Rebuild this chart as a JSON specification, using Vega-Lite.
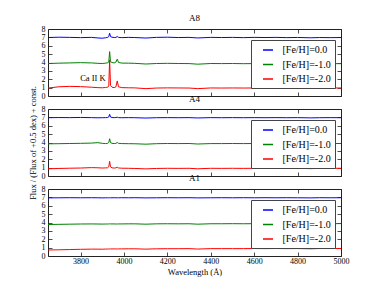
{
"$schema":"https://vega.github.io/schema/vega-lite/v6.json",
"padding":{"left":27,"top":13,"right":5,"bottom":5},
"background":"#ffffff",
"datasets":{
"A8":[
{"w":3650,"f":6.98,"s":"[Fe/H]=0.0"},{"w":3700,"f":7.02,"s":"[Fe/H]=0.0"},{"w":3750,"f":7.0,"s":"[Fe/H]=0.0"},{"w":3800,"f":6.97,"s":"[Fe/H]=0.0"},{"w":3850,"f":7.0,"s":"[Fe/H]=0.0"},{"w":3880,"f":6.93,"s":"[Fe/H]=0.0"},{"w":3900,"f":6.9,"s":"[Fe/H]=0.0"},{"w":3915,"f":6.95,"s":"[Fe/H]=0.0"},{"w":3925,"f":7.0,"s":"[Fe/H]=0.0"},{"w":3930,"f":7.1,"s":"[Fe/H]=0.0"},{"w":3934,"f":7.5,"s":"[Fe/H]=0.0"},{"w":3938,"f":7.1,"s":"[Fe/H]=0.0"},{"w":3945,"f":7.02,"s":"[Fe/H]=0.0"},{"w":3955,"f":6.98,"s":"[Fe/H]=0.0"},{"w":3963,"f":7.0,"s":"[Fe/H]=0.0"},{"w":3969,"f":7.1,"s":"[Fe/H]=0.0"},{"w":3975,"f":7.0,"s":"[Fe/H]=0.0"},{"w":3990,"f":6.97,"s":"[Fe/H]=0.0"},{"w":4020,"f":7.0,"s":"[Fe/H]=0.0"},{"w":4050,"f":6.98,"s":"[Fe/H]=0.0"},{"w":4101,"f":6.92,"s":"[Fe/H]=0.0"},{"w":4150,"f":7.0,"s":"[Fe/H]=0.0"},{"w":4200,"f":7.02,"s":"[Fe/H]=0.0"},{"w":4250,"f":6.98,"s":"[Fe/H]=0.0"},{"w":4300,"f":7.0,"s":"[Fe/H]=0.0"},{"w":4340,"f":6.93,"s":"[Fe/H]=0.0"},{"w":4400,"f":7.0,"s":"[Fe/H]=0.0"},{"w":4450,"f":6.98,"s":"[Fe/H]=0.0"},{"w":4500,"f":7.0,"s":"[Fe/H]=0.0"},{"w":4550,"f":6.97,"s":"[Fe/H]=0.0"},{"w":4600,"f":7.0,"s":"[Fe/H]=0.0"},{"w":4650,"f":6.98,"s":"[Fe/H]=0.0"},{"w":4700,"f":7.0,"s":"[Fe/H]=0.0"},{"w":4750,"f":6.97,"s":"[Fe/H]=0.0"},{"w":4800,"f":6.99,"s":"[Fe/H]=0.0"},{"w":4861,"f":6.95,"s":"[Fe/H]=0.0"},{"w":4900,"f":6.98,"s":"[Fe/H]=0.0"},{"w":4950,"f":6.97,"s":"[Fe/H]=0.0"},{"w":5000,"f":6.98,"s":"[Fe/H]=0.0"},
{"w":3650,"f":3.88,"s":"[Fe/H]=-1.0"},{"w":3700,"f":3.92,"s":"[Fe/H]=-1.0"},{"w":3750,"f":3.95,"s":"[Fe/H]=-1.0"},{"w":3800,"f":3.98,"s":"[Fe/H]=-1.0"},{"w":3850,"f":3.95,"s":"[Fe/H]=-1.0"},{"w":3880,"f":3.9,"s":"[Fe/H]=-1.0"},{"w":3900,"f":3.88,"s":"[Fe/H]=-1.0"},{"w":3915,"f":3.92,"s":"[Fe/H]=-1.0"},{"w":3925,"f":3.97,"s":"[Fe/H]=-1.0"},{"w":3930,"f":4.05,"s":"[Fe/H]=-1.0"},{"w":3934,"f":5.3,"s":"[Fe/H]=-1.0"},{"w":3938,"f":4.1,"s":"[Fe/H]=-1.0"},{"w":3945,"f":4.0,"s":"[Fe/H]=-1.0"},{"w":3955,"f":3.95,"s":"[Fe/H]=-1.0"},{"w":3963,"f":4.05,"s":"[Fe/H]=-1.0"},{"w":3969,"f":4.4,"s":"[Fe/H]=-1.0"},{"w":3975,"f":4.0,"s":"[Fe/H]=-1.0"},{"w":3990,"f":3.93,"s":"[Fe/H]=-1.0"},{"w":4020,"f":3.92,"s":"[Fe/H]=-1.0"},{"w":4050,"f":3.9,"s":"[Fe/H]=-1.0"},{"w":4101,"f":3.82,"s":"[Fe/H]=-1.0"},{"w":4150,"f":3.88,"s":"[Fe/H]=-1.0"},{"w":4200,"f":3.9,"s":"[Fe/H]=-1.0"},{"w":4250,"f":3.88,"s":"[Fe/H]=-1.0"},{"w":4300,"f":3.87,"s":"[Fe/H]=-1.0"},{"w":4340,"f":3.8,"s":"[Fe/H]=-1.0"},{"w":4400,"f":3.88,"s":"[Fe/H]=-1.0"},{"w":4450,"f":3.87,"s":"[Fe/H]=-1.0"},{"w":4500,"f":3.88,"s":"[Fe/H]=-1.0"},{"w":4550,"f":3.86,"s":"[Fe/H]=-1.0"},{"w":4600,"f":3.87,"s":"[Fe/H]=-1.0"},{"w":4650,"f":3.86,"s":"[Fe/H]=-1.0"},{"w":4700,"f":3.88,"s":"[Fe/H]=-1.0"},{"w":4750,"f":3.87,"s":"[Fe/H]=-1.0"},{"w":4800,"f":3.86,"s":"[Fe/H]=-1.0"},{"w":4861,"f":3.82,"s":"[Fe/H]=-1.0"},{"w":4900,"f":3.86,"s":"[Fe/H]=-1.0"},{"w":4950,"f":3.87,"s":"[Fe/H]=-1.0"},{"w":5000,"f":3.86,"s":"[Fe/H]=-1.0"},
{"w":3650,"f":0.95,"s":"[Fe/H]=-2.0"},{"w":3700,"f":1.1,"s":"[Fe/H]=-2.0"},{"w":3750,"f":1.15,"s":"[Fe/H]=-2.0"},{"w":3800,"f":1.12,"s":"[Fe/H]=-2.0"},{"w":3850,"f":1.05,"s":"[Fe/H]=-2.0"},{"w":3880,"f":1.0,"s":"[Fe/H]=-2.0"},{"w":3900,"f":0.98,"s":"[Fe/H]=-2.0"},{"w":3915,"f":1.02,"s":"[Fe/H]=-2.0"},{"w":3925,"f":1.05,"s":"[Fe/H]=-2.0"},{"w":3930,"f":1.2,"s":"[Fe/H]=-2.0"},{"w":3934,"f":4.3,"s":"[Fe/H]=-2.0"},{"w":3938,"f":1.25,"s":"[Fe/H]=-2.0"},{"w":3945,"f":1.05,"s":"[Fe/H]=-2.0"},{"w":3955,"f":1.0,"s":"[Fe/H]=-2.0"},{"w":3963,"f":1.1,"s":"[Fe/H]=-2.0"},{"w":3969,"f":1.8,"s":"[Fe/H]=-2.0"},{"w":3975,"f":1.1,"s":"[Fe/H]=-2.0"},{"w":3990,"f":1.0,"s":"[Fe/H]=-2.0"},{"w":4020,"f":0.98,"s":"[Fe/H]=-2.0"},{"w":4050,"f":0.97,"s":"[Fe/H]=-2.0"},{"w":4101,"f":0.88,"s":"[Fe/H]=-2.0"},{"w":4150,"f":0.95,"s":"[Fe/H]=-2.0"},{"w":4200,"f":0.97,"s":"[Fe/H]=-2.0"},{"w":4250,"f":0.96,"s":"[Fe/H]=-2.0"},{"w":4300,"f":0.95,"s":"[Fe/H]=-2.0"},{"w":4340,"f":0.88,"s":"[Fe/H]=-2.0"},{"w":4400,"f":0.96,"s":"[Fe/H]=-2.0"},{"w":4450,"f":0.95,"s":"[Fe/H]=-2.0"},{"w":4500,"f":0.96,"s":"[Fe/H]=-2.0"},{"w":4550,"f":0.95,"s":"[Fe/H]=-2.0"},{"w":4600,"f":0.96,"s":"[Fe/H]=-2.0"},{"w":4650,"f":0.95,"s":"[Fe/H]=-2.0"},{"w":4700,"f":0.96,"s":"[Fe/H]=-2.0"},{"w":4750,"f":0.95,"s":"[Fe/H]=-2.0"},{"w":4800,"f":0.96,"s":"[Fe/H]=-2.0"},{"w":4861,"f":0.9,"s":"[Fe/H]=-2.0"},{"w":4900,"f":0.95,"s":"[Fe/H]=-2.0"},{"w":4950,"f":0.96,"s":"[Fe/H]=-2.0"},{"w":5000,"f":0.96,"s":"[Fe/H]=-2.0"}
],
"A4":[
{"w":3650,"f":6.96,"s":"[Fe/H]=0.0"},{"w":3700,"f":6.98,"s":"[Fe/H]=0.0"},{"w":3750,"f":6.97,"s":"[Fe/H]=0.0"},{"w":3800,"f":6.99,"s":"[Fe/H]=0.0"},{"w":3850,"f":6.97,"s":"[Fe/H]=0.0"},{"w":3880,"f":6.95,"s":"[Fe/H]=0.0"},{"w":3900,"f":6.96,"s":"[Fe/H]=0.0"},{"w":3915,"f":6.97,"s":"[Fe/H]=0.0"},{"w":3925,"f":6.98,"s":"[Fe/H]=0.0"},{"w":3930,"f":7.05,"s":"[Fe/H]=0.0"},{"w":3934,"f":7.36,"s":"[Fe/H]=0.0"},{"w":3938,"f":7.05,"s":"[Fe/H]=0.0"},{"w":3945,"f":6.98,"s":"[Fe/H]=0.0"},{"w":3955,"f":6.97,"s":"[Fe/H]=0.0"},{"w":3963,"f":6.98,"s":"[Fe/H]=0.0"},{"w":3969,"f":7.02,"s":"[Fe/H]=0.0"},{"w":3975,"f":6.97,"s":"[Fe/H]=0.0"},{"w":3990,"f":6.96,"s":"[Fe/H]=0.0"},{"w":4020,"f":6.97,"s":"[Fe/H]=0.0"},{"w":4050,"f":6.96,"s":"[Fe/H]=0.0"},{"w":4101,"f":6.92,"s":"[Fe/H]=0.0"},{"w":4150,"f":6.96,"s":"[Fe/H]=0.0"},{"w":4200,"f":6.97,"s":"[Fe/H]=0.0"},{"w":4250,"f":6.96,"s":"[Fe/H]=0.0"},{"w":4300,"f":6.97,"s":"[Fe/H]=0.0"},{"w":4340,"f":6.93,"s":"[Fe/H]=0.0"},{"w":4400,"f":6.97,"s":"[Fe/H]=0.0"},{"w":4450,"f":6.96,"s":"[Fe/H]=0.0"},{"w":4500,"f":6.97,"s":"[Fe/H]=0.0"},{"w":4550,"f":6.96,"s":"[Fe/H]=0.0"},{"w":4600,"f":6.97,"s":"[Fe/H]=0.0"},{"w":4650,"f":6.96,"s":"[Fe/H]=0.0"},{"w":4700,"f":6.97,"s":"[Fe/H]=0.0"},{"w":4750,"f":6.96,"s":"[Fe/H]=0.0"},{"w":4800,"f":6.97,"s":"[Fe/H]=0.0"},{"w":4861,"f":6.94,"s":"[Fe/H]=0.0"},{"w":4900,"f":6.96,"s":"[Fe/H]=0.0"},{"w":4950,"f":6.97,"s":"[Fe/H]=0.0"},{"w":5000,"f":6.96,"s":"[Fe/H]=0.0"},
{"w":3650,"f":3.84,"s":"[Fe/H]=-1.0"},{"w":3700,"f":3.86,"s":"[Fe/H]=-1.0"},{"w":3750,"f":3.88,"s":"[Fe/H]=-1.0"},{"w":3800,"f":3.9,"s":"[Fe/H]=-1.0"},{"w":3850,"f":3.93,"s":"[Fe/H]=-1.0"},{"w":3880,"f":3.98,"s":"[Fe/H]=-1.0"},{"w":3900,"f":3.9,"s":"[Fe/H]=-1.0"},{"w":3915,"f":3.87,"s":"[Fe/H]=-1.0"},{"w":3925,"f":3.9,"s":"[Fe/H]=-1.0"},{"w":3930,"f":4.0,"s":"[Fe/H]=-1.0"},{"w":3934,"f":4.45,"s":"[Fe/H]=-1.0"},{"w":3938,"f":4.0,"s":"[Fe/H]=-1.0"},{"w":3945,"f":3.9,"s":"[Fe/H]=-1.0"},{"w":3955,"f":3.87,"s":"[Fe/H]=-1.0"},{"w":3963,"f":3.9,"s":"[Fe/H]=-1.0"},{"w":3969,"f":4.0,"s":"[Fe/H]=-1.0"},{"w":3975,"f":3.9,"s":"[Fe/H]=-1.0"},{"w":3990,"f":3.87,"s":"[Fe/H]=-1.0"},{"w":4020,"f":3.86,"s":"[Fe/H]=-1.0"},{"w":4050,"f":3.85,"s":"[Fe/H]=-1.0"},{"w":4101,"f":3.8,"s":"[Fe/H]=-1.0"},{"w":4150,"f":3.86,"s":"[Fe/H]=-1.0"},{"w":4200,"f":3.88,"s":"[Fe/H]=-1.0"},{"w":4250,"f":3.87,"s":"[Fe/H]=-1.0"},{"w":4300,"f":3.88,"s":"[Fe/H]=-1.0"},{"w":4340,"f":3.82,"s":"[Fe/H]=-1.0"},{"w":4400,"f":3.87,"s":"[Fe/H]=-1.0"},{"w":4450,"f":3.87,"s":"[Fe/H]=-1.0"},{"w":4500,"f":3.88,"s":"[Fe/H]=-1.0"},{"w":4550,"f":3.87,"s":"[Fe/H]=-1.0"},{"w":4600,"f":3.88,"s":"[Fe/H]=-1.0"},{"w":4650,"f":3.87,"s":"[Fe/H]=-1.0"},{"w":4700,"f":3.88,"s":"[Fe/H]=-1.0"},{"w":4750,"f":3.87,"s":"[Fe/H]=-1.0"},{"w":4800,"f":3.88,"s":"[Fe/H]=-1.0"},{"w":4861,"f":3.84,"s":"[Fe/H]=-1.0"},{"w":4900,"f":3.87,"s":"[Fe/H]=-1.0"},{"w":4950,"f":3.88,"s":"[Fe/H]=-1.0"},{"w":5000,"f":3.88,"s":"[Fe/H]=-1.0"},
{"w":3650,"f":0.86,"s":"[Fe/H]=-2.0"},{"w":3700,"f":0.9,"s":"[Fe/H]=-2.0"},{"w":3750,"f":0.93,"s":"[Fe/H]=-2.0"},{"w":3800,"f":0.95,"s":"[Fe/H]=-2.0"},{"w":3850,"f":1.0,"s":"[Fe/H]=-2.0"},{"w":3880,"f":0.98,"s":"[Fe/H]=-2.0"},{"w":3900,"f":0.95,"s":"[Fe/H]=-2.0"},{"w":3915,"f":0.97,"s":"[Fe/H]=-2.0"},{"w":3925,"f":0.98,"s":"[Fe/H]=-2.0"},{"w":3930,"f":1.1,"s":"[Fe/H]=-2.0"},{"w":3934,"f":1.75,"s":"[Fe/H]=-2.0"},{"w":3938,"f":1.1,"s":"[Fe/H]=-2.0"},{"w":3945,"f":0.97,"s":"[Fe/H]=-2.0"},{"w":3955,"f":0.95,"s":"[Fe/H]=-2.0"},{"w":3963,"f":0.97,"s":"[Fe/H]=-2.0"},{"w":3969,"f":1.05,"s":"[Fe/H]=-2.0"},{"w":3975,"f":0.96,"s":"[Fe/H]=-2.0"},{"w":3990,"f":0.93,"s":"[Fe/H]=-2.0"},{"w":4020,"f":0.92,"s":"[Fe/H]=-2.0"},{"w":4050,"f":0.9,"s":"[Fe/H]=-2.0"},{"w":4101,"f":0.85,"s":"[Fe/H]=-2.0"},{"w":4150,"f":0.9,"s":"[Fe/H]=-2.0"},{"w":4200,"f":0.92,"s":"[Fe/H]=-2.0"},{"w":4250,"f":0.91,"s":"[Fe/H]=-2.0"},{"w":4300,"f":0.92,"s":"[Fe/H]=-2.0"},{"w":4340,"f":0.86,"s":"[Fe/H]=-2.0"},{"w":4400,"f":0.92,"s":"[Fe/H]=-2.0"},{"w":4450,"f":0.91,"s":"[Fe/H]=-2.0"},{"w":4500,"f":0.92,"s":"[Fe/H]=-2.0"},{"w":4550,"f":0.91,"s":"[Fe/H]=-2.0"},{"w":4600,"f":0.92,"s":"[Fe/H]=-2.0"},{"w":4650,"f":0.91,"s":"[Fe/H]=-2.0"},{"w":4700,"f":0.92,"s":"[Fe/H]=-2.0"},{"w":4750,"f":0.91,"s":"[Fe/H]=-2.0"},{"w":4800,"f":0.92,"s":"[Fe/H]=-2.0"},{"w":4861,"f":0.88,"s":"[Fe/H]=-2.0"},{"w":4900,"f":0.91,"s":"[Fe/H]=-2.0"},{"w":4950,"f":0.92,"s":"[Fe/H]=-2.0"},{"w":5000,"f":0.92,"s":"[Fe/H]=-2.0"}
],
"A1":[
{"w":3650,"f":6.94,"s":"[Fe/H]=0.0"},{"w":3700,"f":6.95,"s":"[Fe/H]=0.0"},{"w":3750,"f":6.96,"s":"[Fe/H]=0.0"},{"w":3800,"f":6.95,"s":"[Fe/H]=0.0"},{"w":3850,"f":6.96,"s":"[Fe/H]=0.0"},{"w":3880,"f":6.95,"s":"[Fe/H]=0.0"},{"w":3900,"f":6.94,"s":"[Fe/H]=0.0"},{"w":3915,"f":6.95,"s":"[Fe/H]=0.0"},{"w":3925,"f":6.95,"s":"[Fe/H]=0.0"},{"w":3930,"f":6.95,"s":"[Fe/H]=0.0"},{"w":3934,"f":6.96,"s":"[Fe/H]=0.0"},{"w":3938,"f":6.95,"s":"[Fe/H]=0.0"},{"w":3945,"f":6.95,"s":"[Fe/H]=0.0"},{"w":3955,"f":6.96,"s":"[Fe/H]=0.0"},{"w":3963,"f":6.95,"s":"[Fe/H]=0.0"},{"w":3969,"f":6.95,"s":"[Fe/H]=0.0"},{"w":3975,"f":6.95,"s":"[Fe/H]=0.0"},{"w":3990,"f":6.96,"s":"[Fe/H]=0.0"},{"w":4020,"f":6.95,"s":"[Fe/H]=0.0"},{"w":4050,"f":6.96,"s":"[Fe/H]=0.0"},{"w":4101,"f":6.94,"s":"[Fe/H]=0.0"},{"w":4150,"f":6.95,"s":"[Fe/H]=0.0"},{"w":4200,"f":6.96,"s":"[Fe/H]=0.0"},{"w":4250,"f":6.95,"s":"[Fe/H]=0.0"},{"w":4300,"f":6.96,"s":"[Fe/H]=0.0"},{"w":4340,"f":6.94,"s":"[Fe/H]=0.0"},{"w":4400,"f":6.95,"s":"[Fe/H]=0.0"},{"w":4450,"f":6.96,"s":"[Fe/H]=0.0"},{"w":4500,"f":6.95,"s":"[Fe/H]=0.0"},{"w":4550,"f":6.96,"s":"[Fe/H]=0.0"},{"w":4600,"f":6.95,"s":"[Fe/H]=0.0"},{"w":4650,"f":6.96,"s":"[Fe/H]=0.0"},{"w":4700,"f":6.95,"s":"[Fe/H]=0.0"},{"w":4750,"f":6.96,"s":"[Fe/H]=0.0"},{"w":4800,"f":6.95,"s":"[Fe/H]=0.0"},{"w":4861,"f":6.94,"s":"[Fe/H]=0.0"},{"w":4900,"f":6.96,"s":"[Fe/H]=0.0"},{"w":4950,"f":6.95,"s":"[Fe/H]=0.0"},{"w":5000,"f":6.96,"s":"[Fe/H]=0.0"},
{"w":3650,"f":3.76,"s":"[Fe/H]=-1.0"},{"w":3700,"f":3.78,"s":"[Fe/H]=-1.0"},{"w":3750,"f":3.8,"s":"[Fe/H]=-1.0"},{"w":3800,"f":3.82,"s":"[Fe/H]=-1.0"},{"w":3850,"f":3.83,"s":"[Fe/H]=-1.0"},{"w":3880,"f":3.82,"s":"[Fe/H]=-1.0"},{"w":3900,"f":3.81,"s":"[Fe/H]=-1.0"},{"w":3915,"f":3.82,"s":"[Fe/H]=-1.0"},{"w":3925,"f":3.82,"s":"[Fe/H]=-1.0"},{"w":3930,"f":3.83,"s":"[Fe/H]=-1.0"},{"w":3934,"f":3.84,"s":"[Fe/H]=-1.0"},{"w":3938,"f":3.83,"s":"[Fe/H]=-1.0"},{"w":3945,"f":3.83,"s":"[Fe/H]=-1.0"},{"w":3955,"f":3.83,"s":"[Fe/H]=-1.0"},{"w":3963,"f":3.82,"s":"[Fe/H]=-1.0"},{"w":3969,"f":3.82,"s":"[Fe/H]=-1.0"},{"w":3975,"f":3.83,"s":"[Fe/H]=-1.0"},{"w":3990,"f":3.83,"s":"[Fe/H]=-1.0"},{"w":4020,"f":3.84,"s":"[Fe/H]=-1.0"},{"w":4050,"f":3.84,"s":"[Fe/H]=-1.0"},{"w":4101,"f":3.8,"s":"[Fe/H]=-1.0"},{"w":4150,"f":3.84,"s":"[Fe/H]=-1.0"},{"w":4200,"f":3.85,"s":"[Fe/H]=-1.0"},{"w":4250,"f":3.84,"s":"[Fe/H]=-1.0"},{"w":4300,"f":3.85,"s":"[Fe/H]=-1.0"},{"w":4340,"f":3.8,"s":"[Fe/H]=-1.0"},{"w":4400,"f":3.85,"s":"[Fe/H]=-1.0"},{"w":4450,"f":3.85,"s":"[Fe/H]=-1.0"},{"w":4500,"f":3.86,"s":"[Fe/H]=-1.0"},{"w":4550,"f":3.85,"s":"[Fe/H]=-1.0"},{"w":4600,"f":3.86,"s":"[Fe/H]=-1.0"},{"w":4650,"f":3.86,"s":"[Fe/H]=-1.0"},{"w":4700,"f":3.86,"s":"[Fe/H]=-1.0"},{"w":4750,"f":3.86,"s":"[Fe/H]=-1.0"},{"w":4800,"f":3.86,"s":"[Fe/H]=-1.0"},{"w":4861,"f":3.84,"s":"[Fe/H]=-1.0"},{"w":4900,"f":3.86,"s":"[Fe/H]=-1.0"},{"w":4950,"f":3.86,"s":"[Fe/H]=-1.0"},{"w":5000,"f":3.87,"s":"[Fe/H]=-1.0"},
{"w":3650,"f":0.72,"s":"[Fe/H]=-2.0"},{"w":3700,"f":0.74,"s":"[Fe/H]=-2.0"},{"w":3750,"f":0.77,"s":"[Fe/H]=-2.0"},{"w":3800,"f":0.8,"s":"[Fe/H]=-2.0"},{"w":3850,"f":0.82,"s":"[Fe/H]=-2.0"},{"w":3880,"f":0.82,"s":"[Fe/H]=-2.0"},{"w":3900,"f":0.81,"s":"[Fe/H]=-2.0"},{"w":3915,"f":0.83,"s":"[Fe/H]=-2.0"},{"w":3925,"f":0.83,"s":"[Fe/H]=-2.0"},{"w":3930,"f":0.84,"s":"[Fe/H]=-2.0"},{"w":3934,"f":0.85,"s":"[Fe/H]=-2.0"},{"w":3938,"f":0.84,"s":"[Fe/H]=-2.0"},{"w":3945,"f":0.84,"s":"[Fe/H]=-2.0"},{"w":3955,"f":0.85,"s":"[Fe/H]=-2.0"},{"w":3963,"f":0.84,"s":"[Fe/H]=-2.0"},{"w":3969,"f":0.84,"s":"[Fe/H]=-2.0"},{"w":3975,"f":0.85,"s":"[Fe/H]=-2.0"},{"w":3990,"f":0.85,"s":"[Fe/H]=-2.0"},{"w":4020,"f":0.86,"s":"[Fe/H]=-2.0"},{"w":4050,"f":0.86,"s":"[Fe/H]=-2.0"},{"w":4101,"f":0.82,"s":"[Fe/H]=-2.0"},{"w":4150,"f":0.86,"s":"[Fe/H]=-2.0"},{"w":4200,"f":0.87,"s":"[Fe/H]=-2.0"},{"w":4250,"f":0.87,"s":"[Fe/H]=-2.0"},{"w":4300,"f":0.88,"s":"[Fe/H]=-2.0"},{"w":4340,"f":0.83,"s":"[Fe/H]=-2.0"},{"w":4400,"f":0.88,"s":"[Fe/H]=-2.0"},{"w":4450,"f":0.88,"s":"[Fe/H]=-2.0"},{"w":4500,"f":0.88,"s":"[Fe/H]=-2.0"},{"w":4550,"f":0.88,"s":"[Fe/H]=-2.0"},{"w":4600,"f":0.89,"s":"[Fe/H]=-2.0"},{"w":4650,"f":0.88,"s":"[Fe/H]=-2.0"},{"w":4700,"f":0.89,"s":"[Fe/H]=-2.0"},{"w":4750,"f":0.88,"s":"[Fe/H]=-2.0"},{"w":4800,"f":0.89,"s":"[Fe/H]=-2.0"},{"w":4861,"f":0.86,"s":"[Fe/H]=-2.0"},{"w":4900,"f":0.89,"s":"[Fe/H]=-2.0"},{"w":4950,"f":0.89,"s":"[Fe/H]=-2.0"},{"w":5000,"f":0.89,"s":"[Fe/H]=-2.0"}
],
"labels":[{"w":3857,"f":2.18,"t":"Ca II K"}]
},
"spacing":13,
"bounds":"flush",
"vconcat":[
{"width":293,"height":67,"title":"A8","data":{"name":"A8"},
 "layer":[
  {"mark":{"type":"line","strokeWidth":1,"clip":true},
   "encoding":{
    "x":{"field":"w","type":"quantitative","scale":{"domain":[3650,5000],"nice":false,"zero":false},"axis":{"orient":"bottom","values":[3800,4000,4200,4400,4600,4800,5000],"labels":false,"title":null}},
    "y":{"field":"f","type":"quantitative","scale":{"domain":[0,8],"nice":false},"axis":{"orient":"left","values":[0,1,2,3,4,5,6,7,8],"title":null}},
    "color":{"field":"s","type":"nominal","scale":{"domain":["[Fe/H]=0.0","[Fe/H]=-1.0","[Fe/H]=-2.0"],"range":["#0000ff","#008000","#ff0000"]},"legend":{"orient":"none","legendX":203,"legendY":11,"title":null}}
   }},
  {"mark":{"type":"point","opacity":0},
   "encoding":{
    "x":{"field":"w","type":"quantitative","scale":{"domain":[3650,5000],"nice":false,"zero":false},"axis":{"orient":"top","values":[3800,4000,4200,4400,4600,4800,5000],"labels":false,"title":null}},
    "y":{"field":"f","type":"quantitative","scale":{"domain":[0,8],"nice":false},"axis":{"orient":"right","values":[0,1,2,3,4,5,6,7,8],"labels":false,"title":null}}
   }},
  {"data":{"name":"labels"},"mark":{"type":"text","fontSize":8.5,"font":"Liberation Serif","color":"#000"},
   "encoding":{
    "x":{"field":"w","type":"quantitative","axis":null},
    "y":{"field":"f","type":"quantitative","axis":null},
    "text":{"field":"t"}
   }}
 ],
 "resolve":{"axis":{"x":"independent","y":"independent"}}
},
{"width":293,"height":67,"title":{"text":"A4","offset":-18},"data":{"name":"A4"},
 "layer":[
  {"mark":{"type":"line","strokeWidth":1,"clip":true},
   "encoding":{
    "x":{"field":"w","type":"quantitative","scale":{"domain":[3650,5000],"nice":false,"zero":false},"axis":{"orient":"bottom","values":[3800,4000,4200,4400,4600,4800,5000],"labels":false,"title":null}},
    "y":{"field":"f","type":"quantitative","scale":{"domain":[0,8],"nice":false},"axis":{"orient":"left","values":[0,1,2,3,4,5,6,7,8],"title":"Flux / (Flux of +0.5 dex) + const."}},
    "color":{"field":"s","type":"nominal","scale":{"domain":["[Fe/H]=0.0","[Fe/H]=-1.0","[Fe/H]=-2.0"],"range":["#0000ff","#008000","#ff0000"]},"legend":{"orient":"none","legendX":203,"legendY":11,"title":null}}
   }},
  {"mark":{"type":"point","opacity":0},
   "encoding":{
    "x":{"field":"w","type":"quantitative","scale":{"domain":[3650,5000],"nice":false,"zero":false},"axis":{"orient":"top","values":[3800,4000,4200,4400,4600,4800,5000],"labels":false,"title":null}},
    "y":{"field":"f","type":"quantitative","scale":{"domain":[0,8],"nice":false},"axis":{"orient":"right","values":[0,1,2,3,4,5,6,7,8],"labels":false,"title":null}}
   }}
 ],
 "resolve":{"axis":{"x":"independent","y":"independent"}}
},
{"width":293,"height":67,"title":"A1","data":{"name":"A1"},
 "layer":[
  {"mark":{"type":"line","strokeWidth":1,"clip":true},
   "encoding":{
    "x":{"field":"w","type":"quantitative","scale":{"domain":[3650,5000],"nice":false,"zero":false},"axis":{"orient":"bottom","values":[3800,4000,4200,4400,4600,4800,5000],"format":"d","labelPadding":5,"titlePadding":2,"title":"Wavelength (Å)"}},
    "y":{"field":"f","type":"quantitative","scale":{"domain":[0,8],"nice":false},"axis":{"orient":"left","values":[0,1,2,3,4,5,6,7,8],"title":null}},
    "color":{"field":"s","type":"nominal","scale":{"domain":["[Fe/H]=0.0","[Fe/H]=-1.0","[Fe/H]=-2.0"],"range":["#0000ff","#008000","#ff0000"]},"legend":{"orient":"none","legendX":203,"legendY":11,"title":null}}
   }},
  {"mark":{"type":"point","opacity":0},
   "encoding":{
    "x":{"field":"w","type":"quantitative","scale":{"domain":[3650,5000],"nice":false,"zero":false},"axis":{"orient":"top","values":[3800,4000,4200,4400,4600,4800,5000],"labels":false,"title":null}},
    "y":{"field":"f","type":"quantitative","scale":{"domain":[0,8],"nice":false},"axis":{"orient":"right","values":[0,1,2,3,4,5,6,7,8],"labels":false,"title":null}}
   }}
 ],
 "resolve":{"axis":{"x":"independent","y":"independent"}}
}
],
"resolve":{"scale":{"color":"independent"},"legend":{"color":"independent"}},
"config":{
 "font":"Liberation Serif",
 "view":{"stroke":"#222222","strokeWidth":1},
 "axis":{"grid":false,"domain":false,"tickSize":-4,"tickColor":"#222222","tickWidth":0.8,"labelFont":"Liberation Serif","labelFontSize":8,"labelColor":"#000000","labelPadding":7,"labelFlush":false,"labelOverlap":false,"titleFont":"Liberation Serif","titleFontSize":8.5,"titleFontWeight":"normal","titleColor":"#000000","titlePadding":4},
 "title":{"font":"Liberation Serif","fontSize":9,"fontWeight":"normal","color":"#000000","offset":2,"anchor":"middle"},
 "legend":{"fillColor":"#ffffff","strokeColor":"#444444","strokeWidth":1,"padding":4,"symbolType":"stroke","symbolStrokeWidth":1.5,"symbolSize":100,"symbolOffset":7,"labelFont":"Liberation Serif","labelFontSize":10,"labelColor":"#000000","labelOffset":8.5,"rowPadding":3.5}
}
}
